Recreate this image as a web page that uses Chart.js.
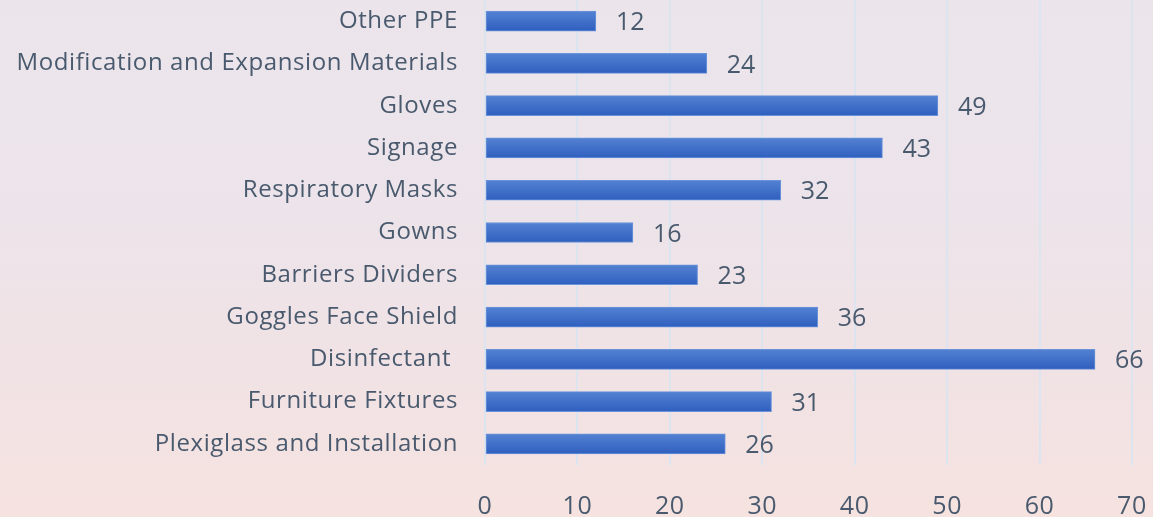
<!DOCTYPE html>
<html>
<head>
<meta charset="utf-8">
<script src="https://cdn.jsdelivr.net/npm/chart.js@4"></script>
<style>
html,body{margin:0;padding:0;}
body{width:1153px;height:517px;overflow:hidden;
background:linear-gradient(180deg,#ebe5eb 0%,#ece4ea 40%,#f1e2e4 75%,#f6e3e0 100%);}
#wrap{position:relative;width:1153px;height:517px;}
</style>
</head>
<body>
<div id="wrap"><canvas id="c" width="1153" height="517"></canvas></div>
<script>
const categories = ["Other PPE","Modification and Expansion Materials","Gloves","Signage","Respiratory Masks","Gowns","Barriers Dividers","Goggles Face Shield","Disinfectant ","Furniture Fixtures","Plexiglass and Installation"];
const values = [12,24,49,43,32,16,23,36,66,31,26];
const xTicks = [0,10,20,30,40,50,60,70];

const FONT = "'Open Sans', sans-serif";
const TEXT = "#4a5a6e";
const SPACING = '0.6px';

const spacingPlugin = {
  id: 'spacing',
  beforeInit(chart){ chart.ctx.letterSpacing = SPACING; },
  beforeUpdate(chart){ chart.ctx.letterSpacing = SPACING; },
  beforeDraw(chart){ chart.ctx.letterSpacing = SPACING; }
};

const labelPlugin = {
  id: 'valLabels',
  afterDatasetsDraw(chart){
    const ctx = chart.ctx;
    const meta = chart.getDatasetMeta(0);
    ctx.save();
    ctx.letterSpacing = '0px';
    ctx.font = "25px " + FONT;
    ctx.fillStyle = TEXT;
    ctx.textAlign = 'left';
    ctx.textBaseline = 'middle';
    meta.data.forEach((bar,i)=>{
      ctx.fillText(String(values[i]), bar.x + 20, bar.y + 2);
    });
    ctx.restore();
  }
};

function barFill(context){
  const chart = context.chart;
  const ys = chart.scales && chart.scales.y;
  if (!ys || context.dataIndex === undefined || !isFinite(ys.getPixelForValue(context.dataIndex))) return '#3f6ec8';
  const yc = ys.getPixelForValue(context.dataIndex);
  const g = chart.ctx.createLinearGradient(0, yc - 10, 0, yc + 10);
  g.addColorStop(0, '#5382d2');
  g.addColorStop(0.5, '#4170c9');
  g.addColorStop(1, '#2f5fbe');
  return g;
}

new Chart(document.getElementById('c'), {
  type: 'bar',
  data: {
    labels: categories,
    datasets: [{
      data: values,
      backgroundColor: barFill,
      borderColor: '#6a93da',
      borderWidth: 1,
      borderSkipped: false,
      barThickness: 20
    }]
  },
  options: {
    indexAxis: 'y',
    responsive: false,
    animation: false,
    events: [],
    layout: { padding: { top: 0, right: 21, bottom: 0, left: 0 } },
    plugins: { legend: { display: false }, tooltip: { enabled: false } },
    scales: {
      x: {
        min: 0, max: 70,
        afterBuildTicks(s){ s.ticks = xTicks.map(v=>({value:v})); },
        grid: { color: '#dce5ef', lineWidth: 2, drawTicks: false },
        border: { display: false },
        ticks: { padding: 27, color: TEXT, font: { family: FONT, size: 25 } },
        afterFit(s){ s.height = 52; s.paddingLeft = 0; s.paddingRight = 0; }
      },
      y: {
        grid: { display: false, drawTicks: false },
        border: { display: false },
        ticks: { padding: 27, color: TEXT, font: { family: FONT, size: 24 } },
        afterFit(s){ s.width = 485; s.paddingTop = 0; s.paddingBottom = 0; }
      }
    }
  },
  plugins: [spacingPlugin, labelPlugin]
});
</script>
</body>
</html>
